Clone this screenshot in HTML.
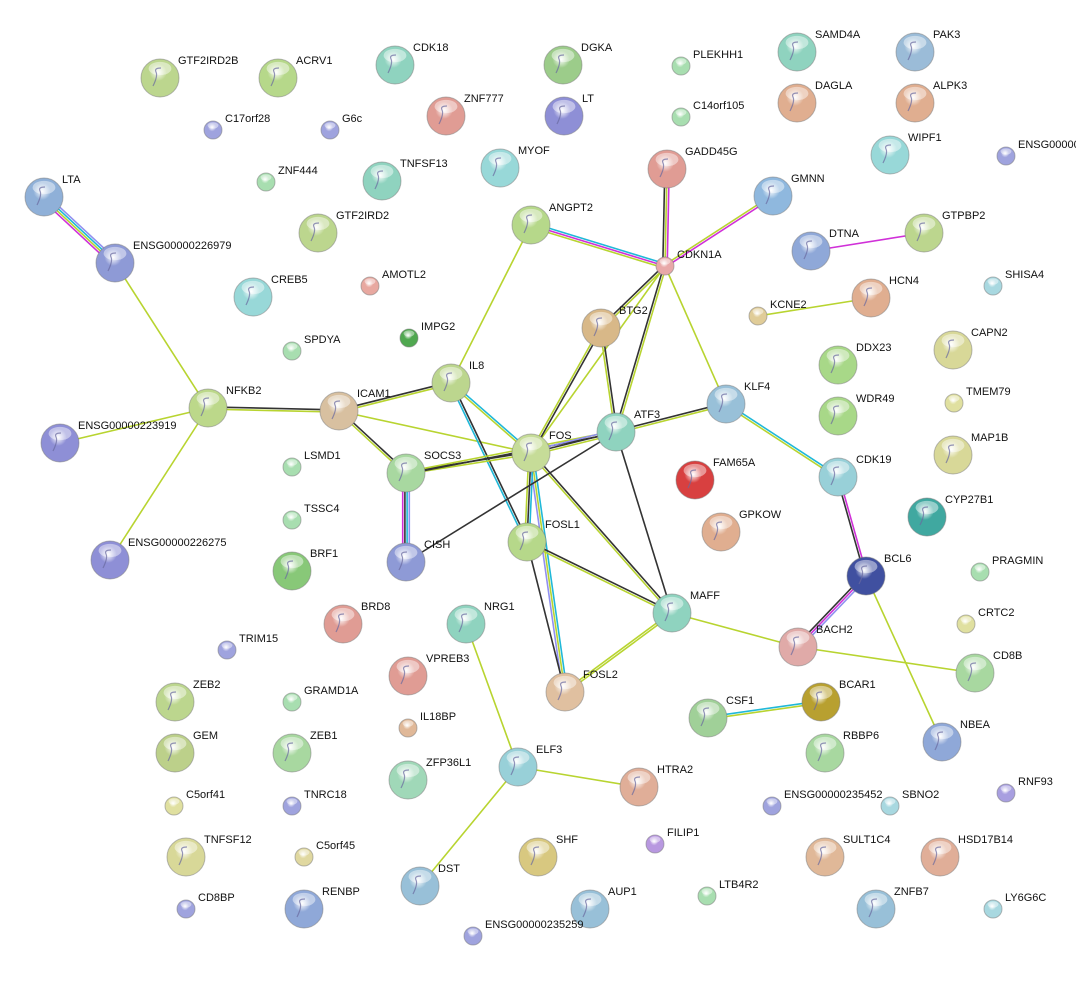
<!DOCTYPE html>
<html><head><meta charset="utf-8"><style>
html,body{margin:0;padding:0;background:#fff;width:1076px;height:981px;overflow:hidden}
svg text{font-family:"Liberation Sans",sans-serif;font-size:11px;fill:#111}
</style></head><body>
<svg id="s" width="1076" height="981" xmlns="http://www.w3.org/2000/svg"></svg>
<script>
const N={
GTF2IRD2B:[160,78,1,'#bcd68e'],ACRV1:[278,78,1,'#b6d88a'],CDK18:[395,65,1,'#8fd3bf'],DGKA:[563,65,1,'#9ccc8a'],PLEKHH1:[681,66,0,'#a8deb0'],
SAMD4A:[797,52,1,'#8fd3bf'],PAK3:[915,52,1,'#9bbcd8'],C17orf28:[213,130,0,'#9fa3de'],G6c:[330,130,0,'#9fa3de'],ZNF777:[446,116,1,'#e09c94'],
LT:[564,116,1,'#8e8fd6'],C14orf105:[681,117,0,'#a8deb0'],DAGLA:[797,103,1,'#e0ae90'],ALPK3:[915,103,1,'#e0ae90'],WIPF1:[890,155,1,'#98d8d8'],
ENSG00000:[1006,156,0,'#9fa3de'],LTA:[44,197,1,'#8fb0d8'],ZNF444:[266,182,0,'#a8deb0'],TNFSF13:[382,181,1,'#8fd3bf'],MYOF:[500,168,1,'#98d8d8'],
GADD45G:[667,169,1,'#e09c94'],GMNN:[773,196,1,'#8fb8de'],ENSG00000226979:[115,263,1,'#8e9ad6'],GTF2IRD2:[318,233,1,'#bcd68e'],ANGPT2:[531,225,1,'#b6d88a'],
CDKN1A:[665,266,0,'#e8a8a8'],DTNA:[811,251,1,'#8fa8d8'],GTPBP2:[924,233,1,'#bcd68e'],AMOTL2:[370,286,0,'#e8a8a0'],CREB5:[253,297,1,'#98d8d8'],
SHISA4:[993,286,0,'#a8d8e0'],HCN4:[871,298,1,'#e0ae90'],KCNE2:[758,316,0,'#e0cc98'],BTG2:[601,328,1,'#d8b888'],IMPG2:[409,338,0,'#50a850'],
SPDYA:[292,351,0,'#a8deb0'],CAPN2:[953,350,1,'#d8d898'],DDX23:[838,365,1,'#a8d888'],IL8:[451,383,1,'#bcd68e'],KLF4:[726,404,1,'#98c0d8'],
TMEM79:[954,403,0,'#e0e0a0'],NFKB2:[208,408,1,'#bcd88a'],ICAM1:[339,411,1,'#d8c0a0'],ATF3:[616,432,1,'#8fd3bf'],FOS:[531,453,1,'#c6dc98'],
WDR49:[838,416,1,'#a8d888'],ENSG00000223919:[60,443,1,'#8e8fd6'],MAP1B:[953,455,1,'#d8d898'],LSMD1:[292,467,0,'#a8deb0'],SOCS3:[406,473,1,'#a8d8a0'],
CDK19:[838,477,1,'#98d0d8'],FAM65A:[695,480,1,'#d84040'],TSSC4:[292,520,0,'#a8deb0'],CYP27B1:[927,517,1,'#40a8a0'],GPKOW:[721,532,1,'#e0ae90'],
FOSL1:[527,542,1,'#b6d88a'],ENSG00000226275:[110,560,1,'#8e8fd6'],CISH:[406,562,1,'#8e9ad6'],BRF1:[292,571,1,'#88c878'],BCL6:[866,576,1,'#4050a0'],
PRAGMIN:[980,572,0,'#a8deb0'],MAFF:[672,613,1,'#8fd3bf'],BRD8:[343,624,1,'#e09c94'],NRG1:[466,624,1,'#8fd3bf'],CRTC2:[966,624,0,'#e0e0a0'],
TRIM15:[227,650,0,'#9fa3de'],BACH2:[798,647,1,'#e0aaa8'],VPREB3:[408,676,1,'#e09c94'],FOSL2:[565,692,1,'#e0c0a0'],CD8B:[975,673,1,'#a8d8a0'],
ZEB2:[175,702,1,'#bcd68e'],GRAMD1A:[292,702,0,'#a8deb0'],CSF1:[708,718,1,'#a0d098'],BCAR1:[821,702,1,'#b8a030'],IL18BP:[408,728,0,'#e0b898'],
GEM:[175,753,1,'#bcd08a'],ZEB1:[292,753,1,'#a8d8a0'],RBBP6:[825,753,1,'#a8d8a0'],NBEA:[942,742,1,'#8fa8d8'],ZFP36L1:[408,780,1,'#a0d8b8'],
ELF3:[518,767,1,'#98d0d8'],HTRA2:[639,787,1,'#e0ae98'],C5orf41:[174,806,0,'#e0e0a0'],TNRC18:[292,806,0,'#9fa3de'],ENSG00000235452:[772,806,0,'#9fa3de'],
SBNO2:[890,806,0,'#a8d8e0'],RNF93:[1006,793,0,'#a89fe0'],FILIP1:[655,844,0,'#b898e0'],SHF:[538,857,1,'#d8c880'],TNFSF12:[186,857,1,'#d8d898'],
C5orf45:[304,857,0,'#e0d8a0'],SULT1C4:[825,857,1,'#e0b898'],HSD17B14:[940,857,1,'#e0ae98'],DST:[420,886,1,'#98c0d8'],AUP1:[590,909,1,'#98c0d8'],
LTB4R2:[707,896,0,'#a8deb0'],ZNFB7:[876,909,1,'#98c0d8'],CD8BP:[186,909,0,'#9fa3de'],RENBP:[304,909,1,'#8fa8d8'],LY6G6C:[993,909,0,'#a8d8e0'],
ENSG00000235259:[473,936,0,'#9fa3de']};
const Y='#b8d430',K='#333',B='#20b8d8',P='#9090f0',M='#d030d8';
const E=[['LTA','ENSG00000226979',[P,B,Y,M]],['ENSG00000226979','NFKB2',[Y]],['NFKB2','ENSG00000223919',[Y]],['NFKB2','ENSG00000226275',[Y]],
['NFKB2','ICAM1',[K,Y]],['ICAM1','IL8',[K,Y]],['ICAM1','SOCS3',[K,Y]],['ICAM1','FOS',[Y]],['IL8','ANGPT2',[Y]],['IL8','FOS',[B,Y]],
['IL8','FOSL1',[K,B]],['FOS','FOSL2',[B,Y,P]],['ANGPT2','CDKN1A',[B,M,Y]],['GADD45G','CDKN1A',[M,Y,K]],['GMNN','CDKN1A',[M,Y]],
['CDKN1A','BTG2',[Y,K]],['CDKN1A','ATF3',[Y,K]],['CDKN1A','FOS',[Y]],['CDKN1A','KLF4',[Y]],['BTG2','FOS',[K,Y]],['BTG2','ATF3',[K,Y]],
['DTNA','GTPBP2',[M]],['KCNE2','HCN4',[Y]],['SOCS3','CISH',[P,B,K,M]],['SOCS3','FOS',[K,Y]],['SOCS3','ATF3',[Y,K]],['FOS','ATF3',[P,K,Y]],
['ATF3','KLF4',[K,Y]],['KLF4','CDK19',[B,Y]],['CDK19','BCL6',[M,K]],['BCL6','BACH2',[P,M,K]],['BCL6','NBEA',[Y]],['FOS','FOSL1',[B,K,Y]],
['FOS','MAFF',[K,Y]],['CISH','ATF3',[K]],['ATF3','MAFF',[K]],['FOSL1','MAFF',[K,Y]],['MAFF','FOSL2',[Y,Y]],['MAFF','BACH2',[Y]],['BACH2','CD8B',[Y]],
['CSF1','BCAR1',[B,Y]],['NRG1','ELF3',[Y]],['ELF3','HTRA2',[Y]],['ELF3','DST',[Y]],['FOSL1','FOSL2',[K]]];
let s='<defs>';
const cols={};let gi=0;
for(const k in N){const c=N[k][3];if(!(c in cols)){cols[c]='g'+(gi++);s+=`<radialGradient id="${cols[c]}" cx="45%" cy="35%" r="65%"><stop offset="0" stop-color="#fff"/><stop offset="0.35" stop-color="${c}"/><stop offset="1" stop-color="${c}" stop-opacity="1"/></radialGradient>`;}}
s+='</defs>';
for(const [a,b,cs] of E){const[x1,y1]=N[a],[x2,y2]=N[b];const dx=x2-x1,dy=y2-y1,l=Math.hypot(dx,dy),nx=-dy/l,ny=dx/l;const n=cs.length;
cs.forEach((c,i)=>{const o=(i-(n-1)/2)*2.2;s+=`<line x1="${x1+nx*o}" y1="${y1+ny*o}" x2="${x2+nx*o}" y2="${y2+ny*o}" stroke="${c}" stroke-width="1.6"/>`;});}
for(const k in N){const[x,y,b,c]=N[k];const r=b?19:9;
s+=`<circle cx="${x}" cy="${y}" r="${r}" fill="url(#${cols[c]})" stroke="#777" stroke-opacity="0.5" stroke-width="1"/>`;
s+=`<ellipse cx="${x}" cy="${y-r*0.5}" rx="${r*0.6}" ry="${r*0.35}" fill="#fff" opacity="0.45"/>`;
if(b)s+=`<path d="M${x-7} ${y+8}q5 -10 3 -14t5 -4" stroke="#6a6aa0" fill="none" stroke-width="1.2" opacity="0.7"/>`;
s+=`<text x="${x+(b?18:12)}" y="${y-(b?14:8)}">${k}</text>`;}
document.getElementById('s').innerHTML=s;
</script>
</body></html>
